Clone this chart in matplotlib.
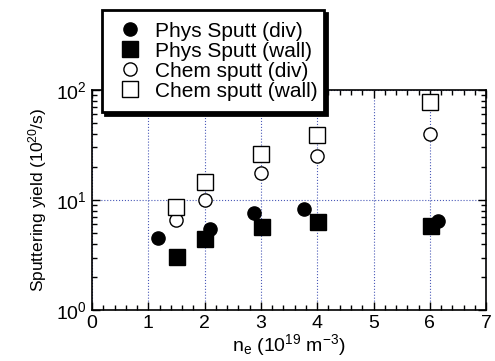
import matplotlib.pyplot as plt
from matplotlib.ticker import MultipleLocator, LogLocator, LogFormatterMathtext, NullFormatter

plt.rcParams['font.family'] = ['Liberation Sans', 'DejaVu Sans']
plt.rcParams['mathtext.default'] = 'regular'

# data
phys_div_x = [1.17, 2.1, 2.88, 3.77, 6.15]
phys_div_y = [4.5, 5.4, 7.6, 8.3, 6.5]
phys_wall_x = [1.5, 2.0, 3.02, 4.01, 6.02]
phys_wall_y = [3.05, 4.4, 5.7, 6.35, 5.8]
chem_div_x = [1.49, 2.0, 3.01, 4.0, 6.0]
chem_div_y = [6.6, 10.0, 17.5, 25.0, 39.5]
chem_wall_x = [1.49, 2.0, 3.01, 4.0, 6.0]
chem_wall_y = [8.7, 14.7, 26.0, 39.0, 78.0]

fig = plt.figure(figsize=(4.95, 3.61), dpi=100)
ax = fig.add_axes([0.186, 0.141, 0.796, 0.610])

ax.plot(phys_div_x, phys_div_y, 'o', color='black', ms=9.5, label='Phys Sputt (div)', zorder=3)
ax.plot(phys_wall_x, phys_wall_y, 's', color='black', ms=11.5, label='Phys Sputt (wall)', zorder=3)
ax.plot(chem_div_x, chem_div_y, 'o', mfc='white', mec='black', mew=1, ms=9.5, label='Chem sputt (div)', zorder=3)
ax.plot(chem_wall_x, chem_wall_y, 's', mfc='white', mec='black', mew=1, ms=11, label='Chem sputt (wall)', zorder=3)

ax.set_yscale('log')
ax.set_xlim(0, 7)
ax.set_ylim(1, 100)
ax.xaxis.set_major_locator(MultipleLocator(1))
ax.xaxis.set_minor_locator(MultipleLocator(0.2))
ax.yaxis.set_major_locator(LogLocator(base=10))
ax.yaxis.set_major_formatter(LogFormatterMathtext())
ax.yaxis.set_minor_locator(LogLocator(base=10, subs=range(2, 10)))
ax.yaxis.set_minor_formatter(NullFormatter())

ax.tick_params(which='both', direction='in', top=True, right=True, labelsize=14, width=1)
ax.tick_params(which='major', length=6)
ax.tick_params(which='minor', length=3.5)
for s in ax.spines.values():
    s.set_linewidth(1.2)

ax.grid(True, which='major', axis='both', color='#4a5ab8', linestyle=':', linewidth=0.8)

ax.set_xlabel('n$_e$ (10$^{19}$ m$^{-3}$)', fontsize=14, labelpad=0)
ax.set_ylabel('Sputtering yield (10$^{20}$/s)', fontsize=12.5, labelpad=5)

leg = fig.legend(loc='upper left', bbox_to_anchor=(0.206, 0.972, 0.449, 0.0), mode='expand',
                 fontsize=15, frameon=True, fancybox=False, handletextpad=0.4, borderpad=0.55,
                 labelspacing=0.05, handlelength=1.6, borderaxespad=0,
                 shadow={'color': 'black', 'alpha': 1})
leg.get_frame().set_edgecolor('black')
leg.get_frame().set_linewidth(2)

fig.savefig('out.png', dpi=100)
